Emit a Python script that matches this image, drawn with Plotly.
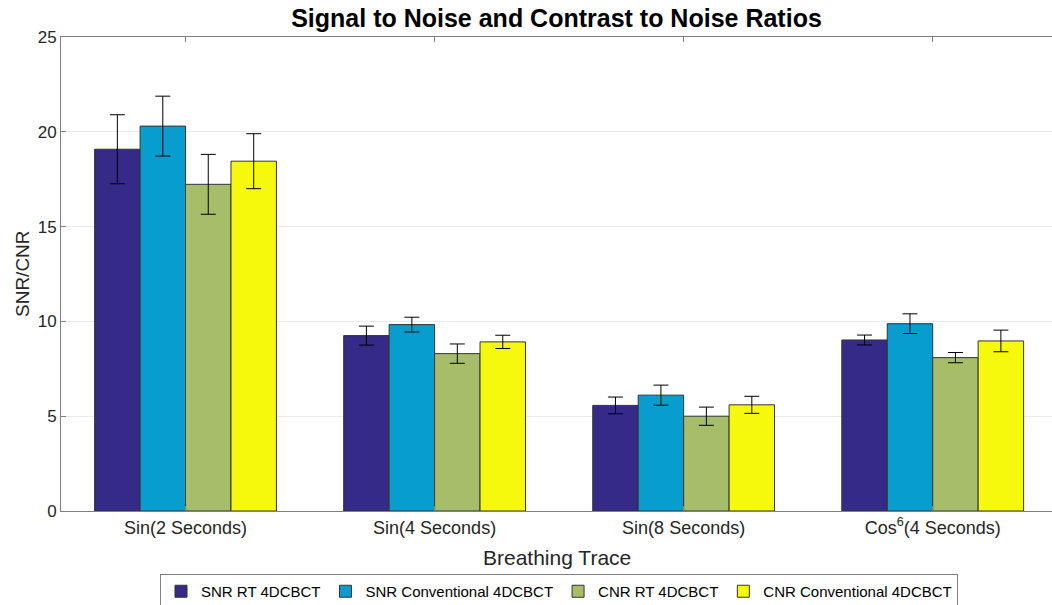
import plotly.graph_objects as go

categories = ["Sin(2 Seconds)", "Sin(4 Seconds)", "Sin(8 Seconds)", "Cos<sup>6</sup>(4 Seconds)"]
series_names = ["SNR RT 4DCBCT", "SNR Conventional 4DCBCT", "CNR RT 4DCBCT", "CNR Conventional 4DCBCT"]

snr_rt = [19.08, 9.25, 5.57, 9.02]
snr_rt_err = [1.82, 0.50, 0.44, 0.26]
snr_conv = [20.30, 9.83, 6.11, 9.88]
snr_conv_err = [1.58, 0.39, 0.53, 0.52]
cnr_rt = [17.23, 8.30, 5.00, 8.09]
cnr_rt_err = [1.58, 0.51, 0.48, 0.27]
cnr_conv = [18.45, 8.92, 5.60, 8.97]
cnr_conv_err = [1.45, 0.35, 0.45, 0.57]

colors = ["#352a87", "#079dcf", "#a6bd6a", "#f7f90d"]

FONT = "Liberation Sans, Arial, sans-serif"

fig = go.Figure()
x_pos = [1, 2, 3, 4]
for name, vals, errs, col in zip(series_names,
                                 [snr_rt, snr_conv, cnr_rt, cnr_conv],
                                 [snr_rt_err, snr_conv_err, cnr_rt_err, cnr_conv_err],
                                 colors):
    fig.add_trace(go.Bar(
        x=x_pos, y=vals, name=name,
        marker=dict(color=col, line=dict(color="#333333", width=1)),
        error_y=dict(type="data", array=errs, visible=True, color="#000000",
                     thickness=1, width=7.5),
    ))

fig.update_layout(
    width=1052, height=605,
    barmode="group", bargap=0.27, bargroupgap=0,
    plot_bgcolor="white", paper_bgcolor="white",
    margin=dict(l=61, r=0, t=37, b=94),
    font=dict(family=FONT, size=15, color="#262626"),
    title=dict(text="<b>Signal to Noise and Contrast to Noise Ratios</b>",
               x=0.5, xref="paper", xanchor="center", y=1 - 18 / 605, yref="container",
               yanchor="middle",
               font=dict(family=FONT, size=25, color="#000000")),
    legend=dict(orientation="h", x=559 / 1052, xanchor="center", xref="container",
                y=1 - 574 / 605, yanchor="top", yref="container",
                bordercolor="#7f7f7f", borderwidth=1,
                font=dict(family=FONT, size=15, color="#000000"),
                traceorder="normal", tracegroupgap=0, itemwidth=30),
    showlegend=True,
    annotations=[
        dict(text="Breathing Trace", xref="paper", x=0.5, yref="paper",
             y=-(557 - 511) / 474, xanchor="center", yanchor="middle", showarrow=False,
             font=dict(family=FONT, size=21, color="#262626")),
        dict(text="SNR/CNR", xref="paper", x=-(61 - 22) / 991, yref="paper", y=0.5,
             xanchor="center", yanchor="middle", textangle=-90, showarrow=False,
             font=dict(family=FONT, size=19, color="#262626")),
    ],
)

fig.update_xaxes(
    range=[0.5, 4.479], tickvals=x_pos, ticktext=categories,
    showline=True, linecolor="#808080", linewidth=1, mirror="ticks",
    ticks="inside", ticklen=5, tickcolor="#808080",
    showgrid=False, zeroline=False, automargin=False,
    tickfont=dict(family=FONT, size=18, color="#262626"),
)
fig.update_yaxes(
    range=[0, 25], tickvals=[0, 5, 10, 15, 20, 25],
    showline=True, linecolor="#808080", linewidth=1, mirror=False,
    ticks="inside", ticklen=5, tickcolor="#808080",
    showgrid=True, gridcolor="#ebebeb", gridwidth=1, zeroline=False, automargin=False,
    tickfont=dict(family=FONT, size=17, color="#262626"),
)

fig.write_html("out.html", config={"displayModeBar": False},
               post_script="document.body.style.margin='0';")
